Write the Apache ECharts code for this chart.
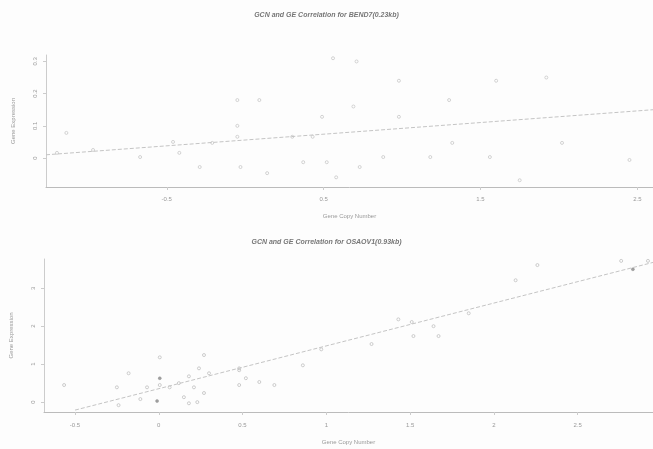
<!DOCTYPE html>
<html>
<head>
<meta charset="utf-8">
<script src="https://cdn.jsdelivr.net/npm/echarts@6/dist/echarts.min.js"></script>
<style>
  html, body { margin: 0; padding: 0; background: #fdfdfd; }
  #main { width: 653px; height: 449px; }
</style>
</head>
<body>
<div id="main"></div>
<script>
// 上图：BEND7 的拷贝数和表达量
var titleTop = 'GCN and GE Correlation for BEND7(0.23kb)';
var xTicksTop = [-0.5, 0.5, 1.5, 2.5];
var yTicksTop = [0.0, 0.1, 0.2, 0.3];
var pointsTop = [
  [-1.20, 0.016], [-1.14, 0.078], [-0.97, 0.025], [-0.67, 0.003], [-0.46, 0.05],
  [-0.42, 0.016], [-0.29, -0.028], [-0.21, 0.047], [-0.05, 0.18], [-0.05, 0.10],
  [-0.05, 0.066], [-0.03, -0.028], [0.09, 0.18], [0.14, -0.047], [0.30, 0.066],
  [0.37, -0.013], [0.43, 0.066], [0.49, 0.128], [0.52, -0.013], [0.56, 0.31],
  [0.58, -0.06], [0.69, 0.16], [0.71, 0.30], [0.73, -0.028], [0.88, 0.003],
  [0.98, 0.128], [0.98, 0.24], [1.18, 0.003], [1.30, 0.18], [1.32, 0.047],
  [1.56, 0.003], [1.60, 0.24], [1.75, -0.069], [1.92, 0.25], [2.02, 0.047],
  [2.45, -0.006]
];
var fitTop = [[-1.27, 0.01], [2.6, 0.15]];

// 下图
var titleBottom = 'GCN and GE Correlation for OSAOV1(0.93kb)';
var xTicksBottom = [-0.5, 0.0, 0.5, 1.0, 1.5, 2.0, 2.5];
var yTicksBottom = [0, 1, 2, 3];
var pointsBottom = [
  [-0.565, 0.45], [-0.25, 0.39], [-0.24, -0.08], [-0.18, 0.76], [-0.11, 0.08],
  [-0.07, 0.39], [0.006, 0.63], [0.006, 0.45], [-0.01, 0.03], [0.006, 1.18],
  [0.065, 0.39], [0.12, 0.5], [0.15, 0.13], [0.18, 0.68], [0.18, -0.03],
  [0.21, 0.39], [0.23, 0.0], [0.24, 0.89], [0.27, 1.24], [0.27, 0.24],
  [0.30, 0.76], [0.48, 0.84], [0.48, 0.89], [0.48, 0.45], [0.52, 0.63],
  [0.60, 0.53], [0.69, 0.45], [0.86, 0.97], [0.97, 1.39], [1.27, 1.53],
  [1.43, 2.18], [1.51, 2.11], [1.52, 1.74], [1.64, 2.0], [1.67, 1.74],
  [1.85, 2.34], [2.13, 3.21], [2.26, 3.61], [2.76, 3.72], [2.83, 3.5],
  [2.92, 3.72]
];
// 深色一点的点
var darkBottom = [[0.006, 0.63], [-0.01, 0.03], [2.83, 3.5]];
var fitBottom = [[-0.5, -0.21], [2.95, 3.68]];

var chart = echarts.init(document.getElementById('main'));
var font = 'Liberation Sans';
var labelColor = '#999';

function xAxisOf(idx, min, max, ticks, margin, gap) {
  return {
    gridIndex: idx, type: 'value', min: min, max: max,
    name: 'Gene Copy Number', nameLocation: 'middle', nameGap: gap,
    nameTextStyle: { color: labelColor, fontSize: 6, fontFamily: font },
    axisLine: { onZero: false, lineStyle: { color: '#bbb', width: 1 } },
    axisTick: { show: true, length: 3, customValues: ticks, lineStyle: { color: '#ccc' } },
    axisLabel: { customValues: ticks, margin: margin, color: labelColor, fontSize: 6, fontFamily: font },
    splitLine: { show: false }
  };
}
function yAxisOf(idx, min, max, ticks, gap) {
  return {
    gridIndex: idx, type: 'value', min: min, max: max,
    name: 'Gene Expression', nameLocation: 'middle', nameGap: gap,
    nameTextStyle: { color: labelColor, fontSize: 6, fontFamily: font },
    axisLine: { show: true, onZero: false, lineStyle: { color: '#ccc', width: 1 } },
    axisTick: { show: true, length: 3, customValues: ticks, lineStyle: { color: '#ccc' } },
    axisLabel: { customValues: ticks, rotate: 90, margin: 8, color: labelColor, fontSize: 6, fontFamily: font },
    splitLine: { show: false }
  };
}

var option = {
  backgroundColor: '#fdfdfd',
  animation: false,
  title: [
    { text: titleTop, left: 'center', top: 7,
      textStyle: { fontSize: 7, fontWeight: 'bold', fontStyle: 'italic', color: '#777', fontFamily: font } },
    { text: titleBottom, left: 'center', top: 234,
      textStyle: { fontSize: 7, fontWeight: 'bold', fontStyle: 'italic', color: '#777', fontFamily: font } }
  ],
  grid: [
    { left: 46, right: 0, top: 55, height: 132 },
    { left: 42, right: 0, top: 259, height: 153 }
  ],
  xAxis: [
    xAxisOf(0, -1.27, 2.6, xTicksTop, 9, 26),
    xAxisOf(1, -0.685, 2.95, xTicksBottom, 10, 27)
  ],
  yAxis: [
    yAxisOf(0, -0.09, 0.32, yTicksTop, 30),
    yAxisOf(1, -0.26, 3.77, yTicksBottom, 30)
  ],
  series: [
    { type: 'scatter', xAxisIndex: 0, yAxisIndex: 0, data: pointsTop, symbolSize: 3,
      itemStyle: { color: 'transparent', borderColor: '#c8c8c8', borderWidth: 1 } },
    { type: 'line', xAxisIndex: 0, yAxisIndex: 0, data: fitTop, showSymbol: false,
      lineStyle: { color: '#c4c4c4', width: 1, type: 'dashed' } },
    { type: 'scatter', xAxisIndex: 1, yAxisIndex: 1, data: pointsBottom, symbolSize: 3,
      itemStyle: { color: 'transparent', borderColor: '#c0c0c0', borderWidth: 1 } },
    { type: 'scatter', xAxisIndex: 1, yAxisIndex: 1, data: darkBottom, symbolSize: 3,
      itemStyle: { color: '#888' } },
    { type: 'line', xAxisIndex: 1, yAxisIndex: 1, data: fitBottom, showSymbol: false,
      lineStyle: { color: '#c4c4c4', width: 1, type: 'dashed' } }
  ]
};
chart.setOption(option);
</script>
</body>
</html>
